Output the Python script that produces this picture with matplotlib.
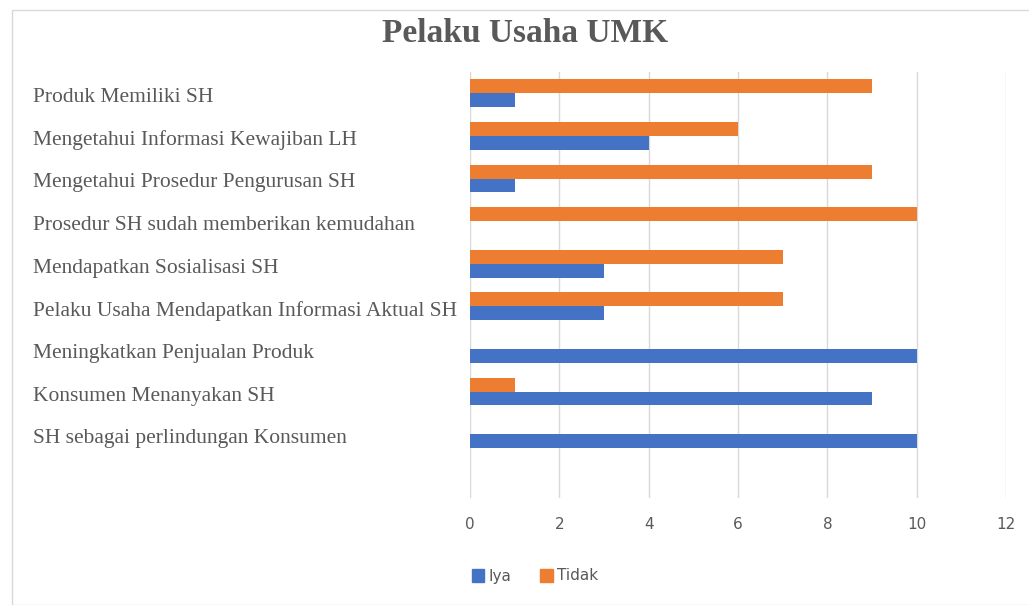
import matplotlib
matplotlib.use("Agg")
from matplotlib import pyplot as plt
from matplotlib.patches import Rectangle, Patch
from matplotlib.transforms import ScaledTranslation
import numpy as np

# data, top to bottom as in the chart
categories = ["Produk Memiliki SH",
              "Mengetahui Informasi Kewajiban LH",
              "Mengetahui Prosedur Pengurusan SH",
              "Prosedur SH sudah memberikan kemudahan",
              "Mendapatkan Sosialisasi SH",
              "Pelaku Usaha Mendapatkan Informasi Aktual SH",
              "Meningkatkan Penjualan Produk",
              "Konsumen Menanyakan SH",
              "SH sebagai perlindungan Konsumen"]
iya = [1, 4, 1, 0, 3, 3, 10, 9, 10]
tidak = [9, 6, 9, 10, 7, 7, 0, 1, 0]
x_ticks = [0, 2, 4, 6, 8, 10, 12]

blue = "#4472C4"
orange = "#ED7D31"
grey_text = "#595959"

fig = plt.figure(figsize=(10.29, 6.05), dpi=100)
fig.patches.append(Rectangle((12 / 1029, 0), 1.0, 1 - 10 / 605, transform=fig.transFigure,
                             fill=False, ec="#D9D9D9", lw=1))
ax = fig.add_axes([470 / 1029, 1 - 498 / 605, 536 / 1029, 426 / 605])

n = len(categories)
pos = np.arange(n)[::-1]  # top category at highest position
h = 0.327
ax.barh(pos - h / 2, iya, height=h, color=blue, zorder=3)
ax.barh(pos + h / 2, tidak, height=h, color=orange, zorder=3)

ax.set_xlim(0, 12)
ax.set_ylim(-1.5, n - 0.5)
ax.set_xticks(x_ticks)
ax.set_xticklabels([str(t) for t in x_ticks])
ax.xaxis.grid(True, color="#D9D9D9", lw=1, zorder=0)
ax.tick_params(axis="x", length=0, pad=14, labelsize=11, labelcolor=grey_text)

ax.set_yticks(pos)
ax.set_yticklabels(categories, fontfamily="Liberation Serif", fontsize=15.5, color=grey_text)
ax.tick_params(axis="y", length=0, pad=(470 - 33) * 0.72)
# labels sit a touch lower than the bar centre
shift = ScaledTranslation(0, -2 / 100, fig.dpi_scale_trans)
for lab in ax.get_yticklabels():
    lab.set_ha("left")
    lab.set_transform(lab.get_transform() + shift)

for s in ax.spines.values():
    s.set_visible(False)

fig.text(525 / 1029, 1 - 34 / 605, "Pelaku Usaha UMK", ha="center", va="center",
         fontfamily="Liberation Serif", fontweight="bold", fontsize=24, color=grey_text)

handles = [Patch(color=blue, label="Iya"), Patch(color=orange, label="Tidak")]
fig.legend(handles=handles, loc="center left", bbox_to_anchor=(458 / 1029, 1 - 576 / 605),
           ncol=2, frameon=False, fontsize=11, labelcolor=grey_text,
           handlelength=0.8, handleheight=0.9, handletextpad=0.3, columnspacing=1.9)

fig.savefig("out.png", dpi=100, facecolor="white")
